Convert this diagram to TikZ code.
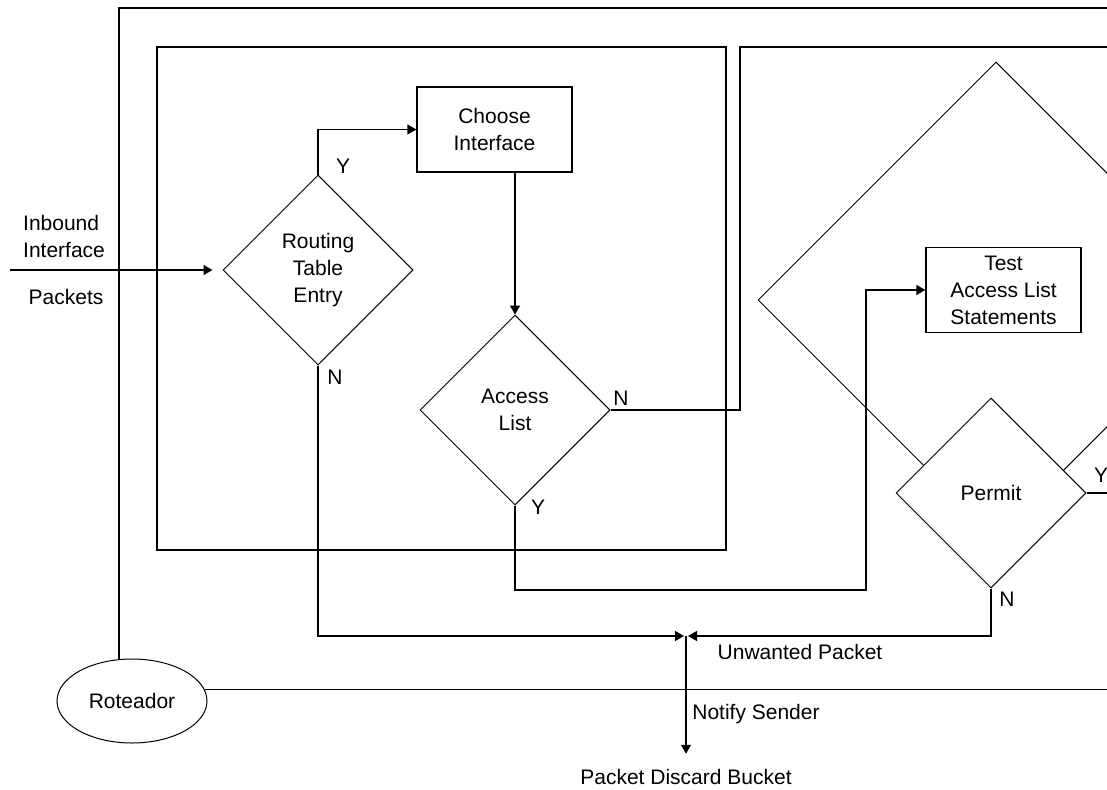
\documentclass[tikz,border=0pt]{standalone}
\usepackage{fontspec}
\setmainfont{Liberation Sans}
\usetikzlibrary{arrows.meta,shapes.geometric}

\begin{document}
\begin{tikzpicture}[
    x=1pt, y=-1pt, % pixel grid, y downwards
    font=\fontsize{21}{27}\selectfont,
    dec/.style={draw,diamond,aspect=1,minimum width=190pt,minimum height=190pt,inner sep=0pt,align=center,fill=white,line width=1pt},
    box/.style={draw,rectangle,minimum width=155pt,minimum height=85pt,align=center,line width=1.3pt},
    frame/.style={line width=1.7pt},
    wire/.style={line width=1.4pt},
    arrow/.style={-{Triangle[length=9pt,width=10pt]},line width=1.4pt},
    lbl/.style={inner sep=0pt,align=center}
]
\useasboundingbox (0,0) rectangle (1107,789);
\clip (0,0) rectangle (1107,789);

% Router
\node[draw,ellipse,minimum width=150pt,minimum height=84pt,line width=1pt] (rot) at (132,701) {Roteador};

% Frames
\draw[frame] (rot.107) -- (rot.107 |- 0,8) -- (1120,8);
\draw[frame] (rot.9) -- (rot.9 -| 1120,0);
\draw[frame] (157,47) rectangle (726,550);

% Access list test area
\node[draw,diamond,aspect=1,minimum width=476pt,minimum height=476pt,inner sep=0pt,line width=1pt] (scope) at (996,300) {};

% Decisions and steps
\node[dec] (rte) at (318,270) {Routing\\Table\\Entry};
\node[box] (choose) at (494.5,129.5) {Choose\\Interface};
\node[dec] (acl) at (515,410) {Access\\List};
\node[box] (test) at (1003.5,290) {Test\\Access List\\Statements};
\node[dec] (permit) at (991,493) {Permit};

% Texts
\node[lbl,align=left,anchor=west] (inbound) at (23,236) {Inbound\\Interface};
\node[lbl] (packets) at (66,297) {Packets};
\node[lbl] (yrte) at (343,166) {Y};
\node[lbl] (nrte) at (335,377) {N};
\node[lbl] (nacl) at (621,398) {N};
\node[lbl] (yacl) at (538,507) {Y};
\node[lbl] (yper) at (1101,475) {Y};
\node[lbl] (nper) at (1007,599) {N};
\node[lbl] (unwanted) at (800,652) {Unwanted Packet};
\node[lbl] (notify) at (756,714) {Notify Sender};
\node (bucket) at (686,777) {Packet Discard Bucket};

% Connectors
\coordinate (src) at (10,270);
\coordinate (drop) at (686,636);
\coordinate (turn) at (866,590);
\coordinate (nbend) at (740,47);
\coordinate (nend) at (1120,47);

\draw[arrow,shorten >=10pt] (src) -- (rte.west);
\draw[arrow] (rte.north) |- (choose.west);
\draw[arrow] (acl.north |- choose.south) -- (acl.north);
\draw[frame] (acl.east) -| (nbend) -- (nend);
\draw[arrow] (acl.south) |- (turn) |- (test.west);
\draw[wire] (permit.east) -- (permit.east -| 1120,0);
\draw[arrow,shorten >=2pt] (rte.south) |- (drop);
\draw[arrow,shorten >=2pt] (permit.south) |- (drop);
\draw[arrow,shorten >=12pt] (drop) -- (bucket.north);

\end{tikzpicture}
\end{document}
